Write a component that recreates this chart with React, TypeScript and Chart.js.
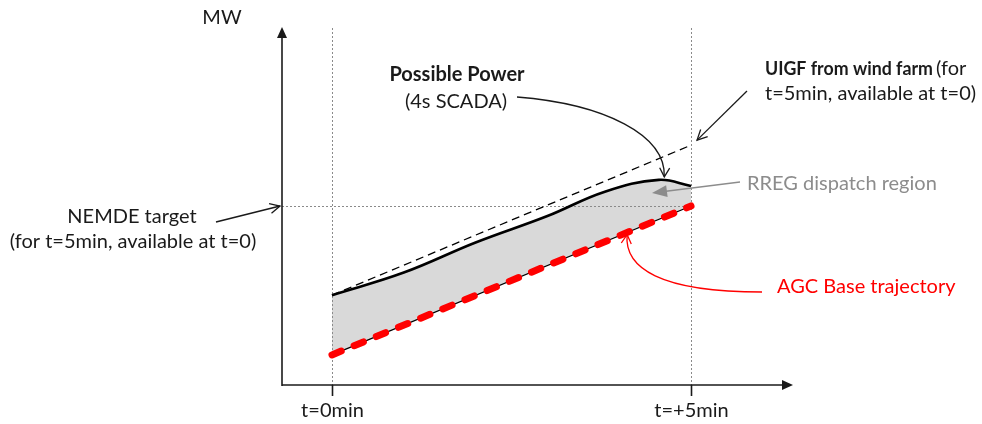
import React, { useEffect, useRef } from "react";
import { Chart, registerables } from "chart.js";

Chart.register(...registerables);

// ---- data (minutes, MW in arbitrary units) ----
const PP_TIME = [0, 1.0, 2.0, 3.0, 3.8, 4.55, 5];
const PP_MW = [25.1, 31.4, 39.8, 47.2, 54.0, 57.3, 55.6];
const AGC_TIME = [0, 5];
const AGC_MW = [8.4, 50.0];
const UIGF_TIME = [0, 5];
const UIGF_MW = [25.1, 67.0];
const NEMDE_TARGET = 50.0;
const TICK_VALUES = [0, 5];
const TICK_LABELS = ["t=0min", "t=+5min"];
const X_MIN = -0.696;
const X_MAX = 6.42;
const Y_MIN = 0;
const Y_MAX = 100;

const FONT = "Lato, 'Open Sans', sans-serif";
const FS = 20;

const pts = (xs: number[], ys: number[]) => xs.map((x, i) => ({ x, y: ys[i] }));

function arrowOpen(ctx: CanvasRenderingContext2D, tx: number, ty: number, ang: number, len: number, half: number) {
  ctx.beginPath();
  const bx = tx - Math.cos(ang) * len;
  const by = ty - Math.sin(ang) * len;
  const nx = -Math.sin(ang) * half;
  const ny = Math.cos(ang) * half;
  ctx.moveTo(bx + nx, by + ny);
  ctx.lineTo(tx, ty);
  ctx.lineTo(bx - nx, by - ny);
  ctx.stroke();
}

function arrowFilled(ctx: CanvasRenderingContext2D, tx: number, ty: number, ang: number, len: number, half: number) {
  ctx.beginPath();
  const bx = tx - Math.cos(ang) * len;
  const by = ty - Math.sin(ang) * len;
  const nx = -Math.sin(ang) * half;
  const ny = Math.cos(ang) * half;
  ctx.moveTo(bx + nx, by + ny);
  ctx.lineTo(tx, ty);
  ctx.lineTo(bx - nx, by - ny);
  ctx.closePath();
  ctx.fill();
}

const guidePlugin = {
  id: "guides",
  beforeDatasetsDraw(chart: any) {
    const { ctx, chartArea, scales } = chart;
    const xs = scales.x;
    const ys = scales.y;
    ctx.save();
    ctx.strokeStyle = "#8a8a8a";
    ctx.lineWidth = 1;
    ctx.setLineDash([2, 2]);
    TICK_VALUES.forEach((v) => {
      const px = Math.round(xs.getPixelForValue(v)) + 0.5;
      ctx.beginPath();
      ctx.moveTo(px, chartArea.top + 1);
      ctx.lineTo(px, chartArea.bottom);
      ctx.stroke();
    });
    const ny = Math.round(ys.getPixelForValue(NEMDE_TARGET)) + 0.5;
    ctx.beginPath();
    ctx.moveTo(chartArea.left, ny);
    ctx.lineTo(xs.getPixelForValue(5), ny);
    ctx.stroke();
    ctx.restore();
  },
  afterDraw(chart: any) {
    const { ctx, chartArea, scales } = chart;
    const xs = scales.x;
    const ys = scales.y;
    const L = chartArea.left;
    const B = chartArea.bottom;
    ctx.save();
    // axes
    ctx.strokeStyle = "#1a1a1a";
    ctx.fillStyle = "#1a1a1a";
    ctx.lineWidth = 1.6;
    ctx.beginPath();
    ctx.moveTo(L, B + 1);
    ctx.lineTo(L, chartArea.top + 8);
    ctx.stroke();
    arrowFilled(ctx, L, chartArea.top, -Math.PI / 2, 11, 5);
    ctx.beginPath();
    ctx.moveTo(L, B);
    ctx.lineTo(chartArea.right - 8, B);
    ctx.stroke();
    arrowFilled(ctx, chartArea.right, B, 0, 11, 5);
    // ticks + labels
    ctx.font = `${FS}px ${FONT}`;
    ctx.textAlign = "center";
    ctx.textBaseline = "middle";
    TICK_VALUES.forEach((v, i) => {
      const px = Math.round(xs.getPixelForValue(v)) + 0.5;
      ctx.beginPath();
      ctx.moveTo(px, B);
      ctx.lineTo(px, B + 11);
      ctx.stroke();
      ctx.fillStyle = "#1a1a1a";
      ctx.fillText(TICK_LABELS[i], px, B + 26);
    });
    // MW
    ctx.fillText("MW", L - 60, 18);

    // Possible Power label + arrow
    ctx.font = `bold ${FS}px ${FONT}`;
    ctx.fillText("Possible Power", 457, 75);
    ctx.font = `${FS}px ${FONT}`;
    ctx.fillText("(4s SCADA)", 456, 102);
    const ppTipX = xs.getPixelForValue(4.6) + 2;
    const ppTipY = ys.getPixelForValue(57.3) - 3;
    ctx.lineWidth = 1.3;
    ctx.beginPath();
    ctx.moveTo(517, 97);
    ctx.bezierCurveTo(605, 104, 666, 135, ppTipX, ppTipY);
    ctx.stroke();
    arrowOpen(ctx, ppTipX, ppTipY, Math.atan2(ppTipY - 135, ppTipX - 666), 9, 5);

    // UIGF label + arrow (bold part condensed to the original's width)
    ctx.textAlign = "left";
    ctx.font = `bold 19px ${FONT}`;
    const boldTxt = "UIGF from wind farm";
    const bwRaw = ctx.measureText(boldTxt).width;
    const targetW = 168;
    const sx = Math.min(1, targetW / bwRaw);
    ctx.save();
    ctx.translate(765, 69);
    ctx.scale(sx, 1);
    ctx.fillText(boldTxt, 0, 0);
    ctx.restore();
    ctx.font = `${FS}px ${FONT}`;
    ctx.fillText("(for", 765 + bwRaw * sx + 3, 69);
    ctx.fillText("t=5min, available at t=0)", 765, 94);
    const uTipX = xs.getPixelForValue(UIGF_TIME[1]) + 6;
    const uTipY = ys.getPixelForValue(UIGF_MW[1]) - 5;
    ctx.beginPath();
    ctx.moveTo(747, 91);
    ctx.lineTo(uTipX, uTipY);
    ctx.stroke();
    arrowOpen(ctx, uTipX, uTipY, Math.atan2(uTipY - 91, uTipX - 747), 10, 5);

    // NEMDE label + arrow
    ctx.textAlign = "center";
    ctx.fillText("NEMDE target", 132, 217);
    ctx.fillText("(for t=5min, available at t=0)", 133, 242);
    const nTipX = L - 2;
    const nTipY = ys.getPixelForValue(NEMDE_TARGET);
    ctx.beginPath();
    ctx.moveTo(216, 222);
    ctx.lineTo(nTipX, nTipY);
    ctx.stroke();
    arrowOpen(ctx, nTipX, nTipY, Math.atan2(nTipY - 222, nTipX - 216), 10, 5);

    // RREG label + arrow
    ctx.textAlign = "left";
    ctx.fillStyle = "#8c8c8c";
    ctx.strokeStyle = "#8c8c8c";
    ctx.fillText("RREG dispatch region", 747, 184);
    ctx.lineWidth = 1.5;
    const rTipX = 652;
    const rTipY = 193;
    ctx.beginPath();
    ctx.moveTo(740, 182);
    ctx.lineTo(rTipX + 10, rTipY - 1.3);
    ctx.stroke();
    arrowFilled(ctx, rTipX, rTipY, Math.atan2(rTipY - 182, rTipX - 740), 15, 6);

    // AGC label + arrow
    ctx.fillStyle = "#ff0000";
    ctx.strokeStyle = "#ff0000";
    ctx.fillText("AGC Base trajectory", 777, 287);
    const aT = 4.11;
    const aMW = AGC_MW[0] + ((AGC_MW[1] - AGC_MW[0]) * (aT - AGC_TIME[0])) / (AGC_TIME[1] - AGC_TIME[0]);
    const aTipX = xs.getPixelForValue(aT);
    const aTipY = ys.getPixelForValue(aMW) + 2;
    ctx.lineWidth = 1.3;
    ctx.beginPath();
    ctx.moveTo(762, 292);
    ctx.bezierCurveTo(660, 292, 624, 268, aTipX, aTipY);
    ctx.stroke();
    arrowOpen(ctx, aTipX, aTipY, Math.atan2(aTipY - 268, aTipX - 624), 9, 5);
    ctx.restore();
  },
};

export default function App() {
  const ref = useRef<HTMLCanvasElement | null>(null);
  useEffect(() => {
    if (!ref.current) return;
    const chart = new Chart(ref.current, {
      type: "line",
      data: {
        datasets: [
          {
            label: "AGC Base trajectory",
            data: pts(AGC_TIME, AGC_MW),
            borderColor: "#ff0000",
            borderWidth: 7,
            borderDash: [10, 14],
            borderCapStyle: "round",
            pointRadius: 0,
            fill: false,
          },
          {
            label: "AGC line",
            data: pts(AGC_TIME, AGC_MW),
            borderColor: "#000000",
            borderWidth: 1.2,
            pointRadius: 0,
            fill: false,
          },
          {
            label: "Possible Power",
            data: pts(PP_TIME, PP_MW),
            borderColor: "#000000",
            borderWidth: 2.6,
            pointRadius: 0,
            tension: 0.4,
            fill: { target: 1 },
            backgroundColor: "#d9d9d9",
          },
          {
            label: "UIGF",
            data: pts(UIGF_TIME, UIGF_MW),
            borderColor: "#000000",
            borderWidth: 1.3,
            borderDash: [8, 5],
            pointRadius: 0,
            fill: false,
          },
        ],
      },
      options: {
        animation: false,
        responsive: false,
        events: [],
        layout: { padding: { left: 282, right: 189, top: 27, bottom: 39 } },
        plugins: {
          legend: { display: false },
          tooltip: { enabled: false },
          filler: { drawTime: "beforeDatasetsDraw", propagate: false },
        },
        scales: {
          x: { type: "linear", min: X_MIN, max: X_MAX, display: false },
          y: { type: "linear", min: Y_MIN, max: Y_MAX, display: false },
        },
      } as any,
      plugins: [guidePlugin],
    });
    return () => chart.destroy();
  }, []);
  return (
    <div style={{ position: "absolute", left: 0, top: 0, width: 982, height: 424, background: "#fff" }}>
      <canvas ref={ref} width={982} height={424} style={{ display: "block" }} />
    </div>
  );
}
